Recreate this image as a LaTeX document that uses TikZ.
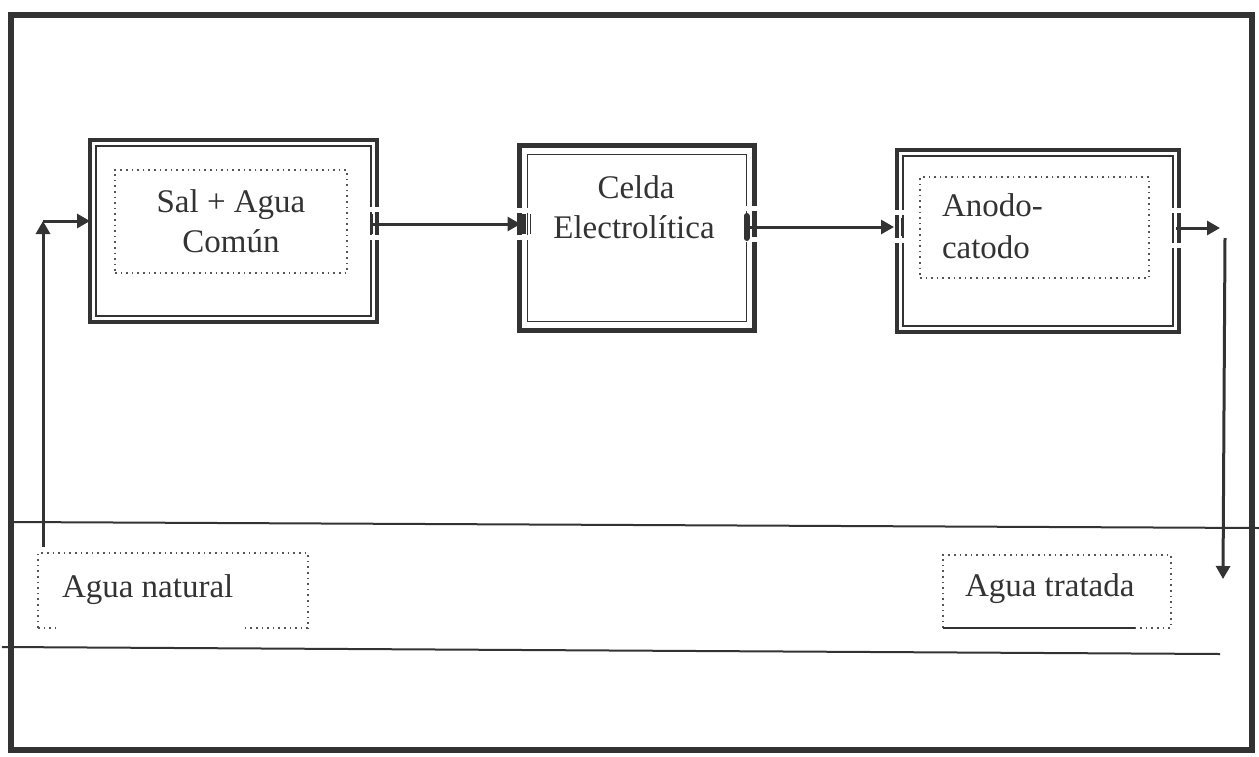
\documentclass[tikz,border=0pt]{standalone}
\usepackage{fontspec}
\setmainfont{Liberation Serif}
\usetikzlibrary{arrows.meta,calc}
\definecolor{ink}{HTML}{333333}
\definecolor{thin}{HTML}{555555}
\begin{document}
\begin{tikzpicture}[x=0.5pt,y=-0.5pt,
  every node/.style={inner sep=0pt,outer sep=0pt},
  txt/.style={font=\fontsize{16.5}{20}\selectfont, text=ink},
  outerbox/.style={draw=ink,line width=1.7pt},
  innerline/.style={draw=ink,line width=0.7pt},
  thickbox/.style={draw=ink,line width=2.8pt},
  dots/.style={draw=thin,dotted,line width=0.8pt},
  conn/.style={draw=ink,line width=1.5pt},
  tri/.style={-{Triangle[length=6.5pt,width=7pt]}},
  gap/.style={fill=white,draw=none},
  bar/.style={draw=ink,line width=1.5pt},
  rule/.style={draw=ink,line width=1pt}
]
\useasboundingbox (0,0) rectangle (1259,756);

% outer frame
\draw[ink,line width=3pt] (11,15) rectangle (1252,750);

% horizontal rules
\coordinate (r1a) at (11,522); \coordinate (r1b) at (1259,528);
\coordinate (r2a) at (2,647);  \coordinate (r2b) at (1220,654);
\draw[rule] (r1a) -- (r1b);
\draw[rule] (r2a) -- (r2b);

% box 1
\node[outerbox,minimum width=143.5pt,minimum height=91pt] (b1) at (233.5,231) {};
\draw[innerline] ([shift={(6,6)}]b1.north west) rectangle ([shift={(-6,-6)}]b1.south east);
\node[dots,minimum width=116pt,minimum height=51.5pt] (d1) at (231,221.5) {};
\node[txt,anchor=base] (t1a) at (231,212) {Sal + Agua};
\node[txt,anchor=base] (t1b) at (231,252) {Común};

% box 2
\node[thickbox,minimum width=117.5pt,minimum height=92.5pt] (b2) at (637,238) {};
\draw[innerline] ([shift={(8,9)}]b2.north west) rectangle ([shift={(-8,-9)}]b2.south east);
\node[txt,anchor=base] (t2a) at (636,198) {Celda};
\node[txt,anchor=base] (t2b) at (634,238) {Electrolítica};

% box 3
\node[outerbox,minimum width=141pt,minimum height=91pt] (b3) at (1038,241) {};
\draw[innerline] ([shift={(6,6)}]b3.north west) rectangle ([shift={(-6,-6)}]b3.south east);
\node[dots,minimum width=114.5pt,minimum height=50.5pt] (d3) at (1034.5,227.5) {};
\node[txt,anchor=base west] (t3a) at (942,216) {Anodo-};
\node[txt,anchor=base west] (t3b) at (942,258) {catodo};

% bottom label boxes
\node[minimum width=135pt,minimum height=37.5pt] (n1) at (173,590.5) {};
\draw[dots] (n1.south west) -- (n1.north west) -- (n1.north east) -- (n1.south east) -- ++(-66,0);
\draw[dots] (n1.south west) -- ++(22,0);
\node[txt,anchor=base west] (t4) at (62,597) {Agua natural};

\node[minimum width=114pt,minimum height=36.5pt] (n2) at (1057,591.5) {};
\draw[dots] (n2.south west) -- (n2.north west) -- (n2.north east) -- (n2.south east) -- ++(-36,0);
\draw[ink,line width=0.8pt] (n2.south west) -- ($(n2.south east)+(-36,0)$);
\node[txt,anchor=base west] (t5) at (965,596) {Agua tratada};

% gaps in borders where connectors attach
\fill[gap] (362,207) rectangle (382,212);
\fill[gap] (362,235) rectangle (382,240);
\fill[gap] (512,208) rectangle (532,213);
\fill[gap] (512,235) rectangle (532,240);
\fill[gap] (735,206) rectangle (760,211);
\fill[gap] (735,237) rectangle (760,242);
\fill[gap] (892,210) rectangle (908,215);
\fill[gap] (892,238) rectangle (908,243);
\fill[gap] (1170,208) rectangle (1184,213);
\fill[gap] (1170,243) rectangle (1184,248);

% connector 1: box 1 -> box 2
\coordinate (s1) at ($(b1.east)+(-7,-7)$);
\coordinate (e1) at ($(b2.west)+(1,-14)$);
\draw[conn,{Bar[width=10pt,line width=1.5pt]}-{Triangle[length=6.5pt,width=7pt]}] (s1) -- (e1);
\draw[bar,line width=2pt] ($(e1)+(3,-10)$) -- ($(e1)+(3,10)$);
\draw[bar,line width=0.9pt] ($(e1)+(10,-10)$) -- ($(e1)+(10,10)$);

% connector 2: box 2 -> box 3
\coordinate (s2) at ($(b2.east)+(-11,-11)$);
\coordinate (e2) at ($(b3.west)+(-3,-14)$);
\draw[conn,{Bar[width=11pt,line width=3pt,round]}-{Triangle[length=6.5pt,width=7pt]}] (s2) -- (e2);
\draw[bar,line width=1.2pt] ($(e2)+(3,-9)$) -- ($(e2)+(3,9)$);
\draw[bar,line width=0.9pt] ($(e2)+(8,-9)$) -- ($(e2)+(8,9)$);

% connector 3: box 3 -> out, then down to treated water
\coordinate (s3) at ($(b3.east)+(-3,-13)$);
\coordinate (e3) at (1220,228);
\draw[conn,tri] (s3) -- (e3);
\coordinate (v1) at (1225,238);
\coordinate (v2) at (1223,579);
\draw[conn,tri] (v1) -- (v2);

% connector 4: natural water up into box 1
\coordinate (l0) at (43,547);
\coordinate (l1) at (43,221);
\draw[conn,tri] (l0) -- (l1);
\draw[conn,tri] (l1) -- (b1.west |- l1);
\end{tikzpicture}
\end{document}
